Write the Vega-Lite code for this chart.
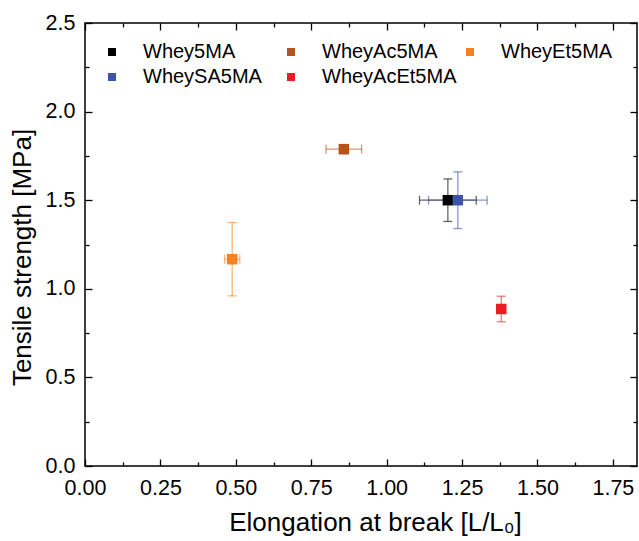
{
  "$schema": "https://vega.github.io/schema/vega-lite/v6.json",
  "autosize": {"type": "none"},
  "padding": {"left": 85, "top": 23, "right": 2, "bottom": 75},
  "width": 552,
  "height": 443,
  "background": "white",
  "data": {
    "values": [
      {"name": "Whey5MA", "x": 1.203, "xe": 0.094, "y": 1.50, "ye": 0.12},
      {"name": "WheyAc5MA", "x": 0.858, "xe": 0.059, "y": 1.788, "ye": 0.025},
      {"name": "WheyEt5MA", "x": 0.488, "xe": 0.025, "y": 1.167, "ye": 0.207},
      {"name": "WheySA5MA", "x": 1.236, "xe": 0.097, "y": 1.50, "ye": 0.16},
      {"name": "WheyAcEt5MA", "x": 1.380, "xe": 0.008, "y": 0.886, "ye": 0.072}
    ]
  },
  "resolve": {"axis": {"x": "independent", "y": "independent"}, "legend": {"color": "independent"}},
  "layer": [
    {
      "mark": {"type": "errorbar", "ticks": {"size": 9}, "thickness": 1.3, "opacity": 0.6},
      "encoding": {
        "x": {"field": "x", "type": "quantitative",
          "scale": {"domain": [0, 1.83], "nice": false, "zero": false},
          "axis": {"orient": "bottom", "values": [0, 0.25, 0.5, 0.75, 1, 1.25, 1.5, 1.75], "format": ".2f",
            "tickSize": -7, "labelPadding": 18, "title": "Elongation at break [L/L₀]", "titlePadding": 11, "titleX": 290}},
        "xError": {"field": "xe"},
        "y": {"field": "y", "type": "quantitative",
          "scale": {"domain": [0, 2.5], "nice": false, "zero": false},
          "axis": {"orient": "left", "values": [0, 0.5, 1, 1.5, 2, 2.5], "format": ".1f",
            "tickSize": -7, "labelPadding": 17, "title": "Tensile strength [MPa]", "titleX": -50, "titleY": 234}},
        "color": {"field": "name", "type": "nominal", "legend": null}
      }
    },
    {
      "mark": {"type": "errorbar", "ticks": {"size": 9}, "thickness": 1.3, "opacity": 0.6},
      "encoding": {
        "y": {"field": "y", "type": "quantitative",
          "axis": {"orient": "right", "values": [0, 0.5, 1, 1.5, 2, 2.5], "labels": false, "tickSize": -7, "title": null}},
        "yError": {"field": "ye"},
        "x": {"field": "x", "type": "quantitative",
          "axis": {"orient": "top", "values": [0, 0.25, 0.5, 0.75, 1, 1.25, 1.5, 1.75], "labels": false, "tickSize": -7, "title": null}},
        "color": {"field": "name", "type": "nominal", "legend": null}
      }
    },
    {
      "mark": {"type": "point", "shape": "square", "filled": true, "size": 110, "opacity": 1},
      "encoding": {
        "x": {"field": "x", "type": "quantitative",
          "axis": {"orient": "bottom", "values": [0.125, 0.375, 0.625, 0.875, 1.125, 1.375, 1.625], "labels": false, "tickSize": -4, "title": null}},
        "y": {"field": "y", "type": "quantitative",
          "axis": {"orient": "left", "values": [0.25, 0.75, 1.25, 1.75, 2.25], "labels": false, "tickSize": -4, "title": null}},
        "color": {"field": "name", "type": "nominal",
          "scale": {"domain": ["Whey5MA", "WheyAc5MA", "WheyEt5MA", "WheySA5MA", "WheyAcEt5MA"],
                    "range": ["#000000", "#B5541F", "#F58220", "#3D55A8", "#EC1C24"]},
          "legend": {"orient": "none", "legendX": 17, "legendY": 19, "columns": 3, "direction": "horizontal", "title": null,
            "gridAlign": "all",
            "symbolType": "square", "symbolSize": 64, "symbolStrokeWidth": 0, "symbolOpacity": 1,
            "labelFontSize": 20, "labelFont": "Liberation Sans", "labelColor": "black",
            "labelOffset": 21, "columnPadding": 3, "rowPadding": 5, "padding": 0, "labelLimit": 300}}
      }
    },
    {
      "mark": {"type": "point", "opacity": 0},
      "encoding": {
        "x": {"field": "x", "type": "quantitative",
          "axis": {"orient": "top", "values": [0.125, 0.375, 0.625, 0.875, 1.125, 1.375, 1.625], "labels": false, "tickSize": -4, "title": null}},
        "y": {"field": "y", "type": "quantitative",
          "axis": {"orient": "right", "values": [0.25, 0.75, 1.25, 1.75, 2.25], "labels": false, "tickSize": -4, "title": null}}
      }
    }
  ],
  "config": {
    "view": {"stroke": "black", "strokeWidth": 1.5},
    "axis": {
      "domain": false, "grid": false, "tickColor": "black", "tickWidth": 1.3,
      "labelFont": "Liberation Sans", "labelFontSize": 21.5, "labelColor": "black",
      "titleFont": "Liberation Sans", "titleFontSize": 26, "titleFontWeight": "normal", "titleColor": "black",
      "labelFlush": false, "labelOverlap": false
    }
  }
}
